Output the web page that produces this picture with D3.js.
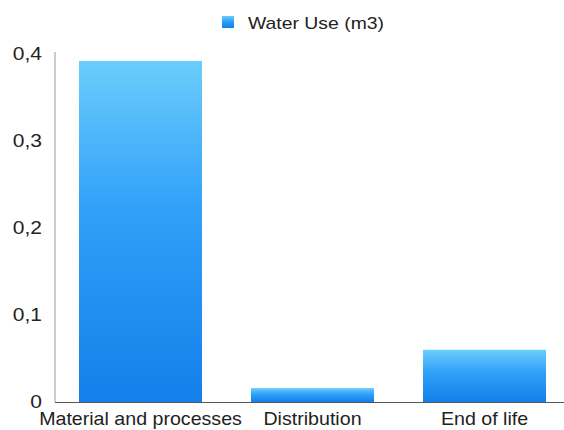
<!DOCTYPE html>
<html>
<head>
<meta charset="utf-8">
<script src="https://cdn.jsdelivr.net/npm/d3@7"></script>
<style>
  html, body { margin: 0; padding: 0; background: #fff; }
  svg { display: block; }
  text { font-family: "Liberation Sans", Arial, Helvetica, sans-serif; fill: #222; }
</style>
</head>
<body>
<svg id="chart" width="564" height="430"></svg>
<script>
// Life-cycle stages and their water use
const categories = ["Material and processes", "Distribution", "End of life"];
const waterUse = [0.392, 0.016, 0.06];
const yTicks = [0, 0.1, 0.2, 0.3, 0.4];
const yTickLabels = ["0", "0,1", "0,2", "0,3", "0,4"];
const seriesName = "Water Use (m3)";

const W = 564, H = 430;
const axisX = 55;
const svg = d3.select("#chart");

// Widen glyphs horizontally to a Helvetica-like set width
function widen(sel, k) {
  sel.each(function () {
    const len = this.getComputedTextLength();
    d3.select(this)
      .attr("textLength", len * k)
      .attr("lengthAdjust", "spacingAndGlyphs");
  });
}

const defs = svg.append("defs");
const grad = defs.append("linearGradient")
  .attr("id", "barGrad")
  .attr("x1", 0).attr("y1", 0).attr("x2", 0).attr("y2", 1);
grad.append("stop").attr("offset", "0%").attr("stop-color", "#6bcdfd");
grad.append("stop").attr("offset", "45%").attr("stop-color", "#2f9ff8");
grad.append("stop").attr("offset", "100%").attr("stop-color", "#137fea");

const x = d3.scaleBand()
  .domain(categories)
  .range([79, 546])
  .paddingInner(0.285)
  .paddingOuter(0);

const y = d3.scaleLinear()
  .domain([0, 0.4])
  .range([402, 54]);

// Bars
svg.append("g")
  .selectAll("rect")
  .data(categories)
  .join("rect")
  .attr("x", d => x(d))
  .attr("width", x.bandwidth())
  .attr("y", (d, i) => y(waterUse[i]))
  .attr("height", (d, i) => y(0) - y(waterUse[i]))
  .attr("fill", "url(#barGrad)");

// Y axis: labels only, plus a plain vertical rule
const yAxis = d3.axisLeft(y)
  .tickValues(yTicks)
  .tickFormat((d, i) => yTickLabels[i])
  .tickSize(0)
  .tickPadding(13);

const gy = svg.append("g")
  .attr("transform", `translate(${axisX},0)`)
  .call(yAxis);
gy.select(".domain").remove();
gy.selectAll("text")
  .attr("font-size", 17.5)
  .attr("font-family", "Liberation Sans, Arial, sans-serif")
  .attr("fill", "#222")
  .call(widen, 1.2);

svg.append("line")
  .attr("x1", axisX).attr("x2", axisX)
  .attr("y1", y(0.4) - 2).attr("y2", y(0))
  .attr("stroke", "#9a9a9a").attr("stroke-width", 1);

// X axis: baseline running to the right edge, category labels below
const xAxis = d3.axisBottom(x).tickSize(0).tickPadding(0);
const gx = svg.append("g")
  .attr("transform", `translate(0,${y(0)})`)
  .call(xAxis);
gx.select(".domain").remove();
gx.selectAll("text")
  .attr("dy", null)
  .attr("y", 23)
  .attr("font-size", 18.5)
  .attr("font-family", "Liberation Sans, Arial, sans-serif")
  .attr("fill", "#222")
  .call(widen, 1.06);

svg.append("line")
  .attr("x1", axisX).attr("x2", W)
  .attr("y1", y(0) + 0.5).attr("y2", y(0) + 0.5)
  .attr("stroke", "#555").attr("stroke-width", 1.2);

// Legend
const legend = svg.append("g").attr("transform", "translate(222,16)");
legend.append("rect")
  .attr("width", 12).attr("height", 12)
  .attr("fill", "url(#barGrad)");
legend.append("text")
  .attr("x", 26).attr("y", 12.7)
  .attr("font-size", 17)
  .text(seriesName)
  .call(widen, 1.14);
</script>
</body>
</html>
